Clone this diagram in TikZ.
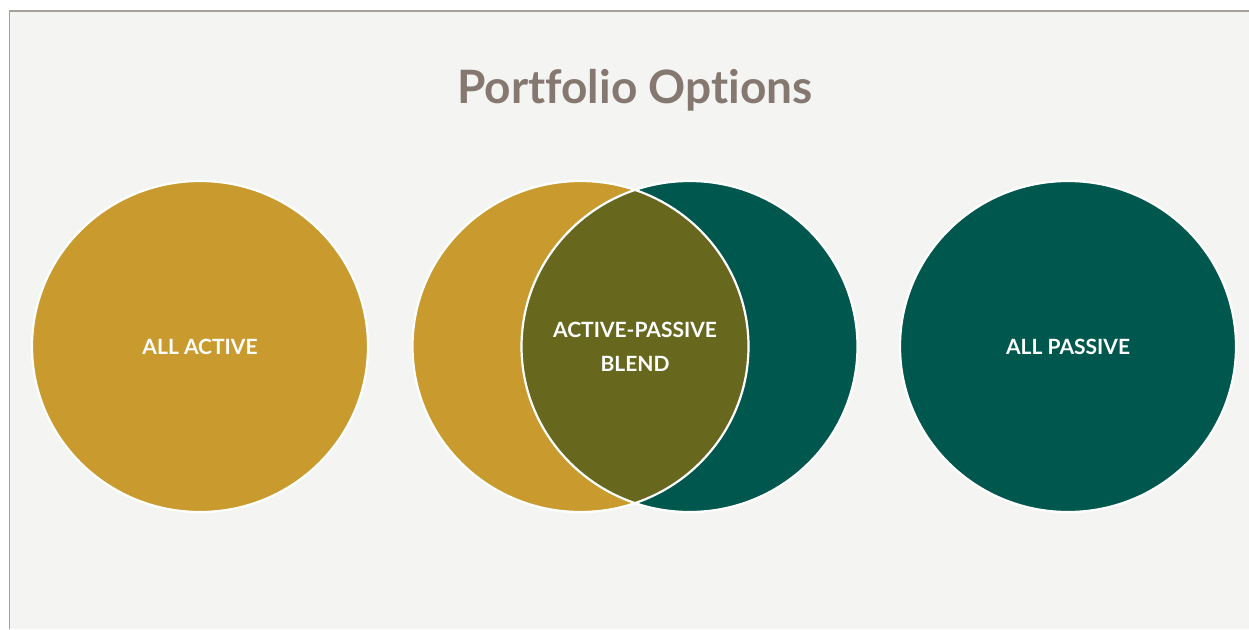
\documentclass[tikz,border=0pt]{standalone}
\usepackage{fontspec}
\setmainfont{Lato}[Ligatures=NoCommon]
\usetikzlibrary{shapes.geometric}
\definecolor{bgc}{HTML}{F4F4F2}
\definecolor{framec}{HTML}{A8A09B}
\definecolor{goldc}{HTML}{C99A2E}
\definecolor{greenc}{HTML}{00574D}
\definecolor{olivec}{HTML}{67681E}
\definecolor{titlec}{HTML}{857870}
\tikzset{
  ring/.style={draw=white, line width=2.2pt},
  lbl/.style={text=white, font=\bfseries\fontsize{21}{34}\selectfont, align=center},
  ttl/.style={text=titlec, font=\bfseries\fontsize{46}{52}\selectfont}
}
\begin{document}
\begin{tikzpicture}[x=1pt,y=-1pt]
\useasboundingbox (0,0) rectangle (1249,629);
\fill[white] (0,0) rectangle (1249,629);
\fill[bgc] (10,11) rectangle (1249,629);
\draw[framec, line width=2pt] (9,10.5) -- (1249,10.5);
\draw[framec, line width=1.5pt] (9.5,10) -- (9.5,629);
\node[ttl] (title) at (635,90) {Portfolio Options};
% left
\fill[goldc] (200,346.5) ellipse [x radius=168, y radius=165.5];
\draw[ring] (200,346.5) ellipse [x radius=168, y radius=165.5];
% middle
\fill[goldc] (580.5,346.5) ellipse [x radius=168, y radius=165.5];
\fill[greenc] (689.5,346.5) ellipse [x radius=168, y radius=165.5];
\begin{scope}
\clip (580.5,346.5) ellipse [x radius=168, y radius=165.5];
\fill[olivec] (689.5,346.5) ellipse [x radius=168, y radius=165.5];
\end{scope}
\draw[ring] (580.5,346.5) ellipse [x radius=168, y radius=165.5];
\draw[ring] (689.5,346.5) ellipse [x radius=168, y radius=165.5];
% right
\fill[greenc] (1068,346.5) ellipse [x radius=168, y radius=165.5];
\draw[ring] (1068,346.5) ellipse [x radius=168, y radius=165.5];
\node[lbl] (active) at (200,346.5) {ALL ACTIVE};
\node[lbl] (blend) at (635,347) {ACTIVE-PASSIVE\\BLEND};
\node[lbl] (passive) at (1068,346.5) {ALL PASSIVE};
\end{tikzpicture}
\end{document}
